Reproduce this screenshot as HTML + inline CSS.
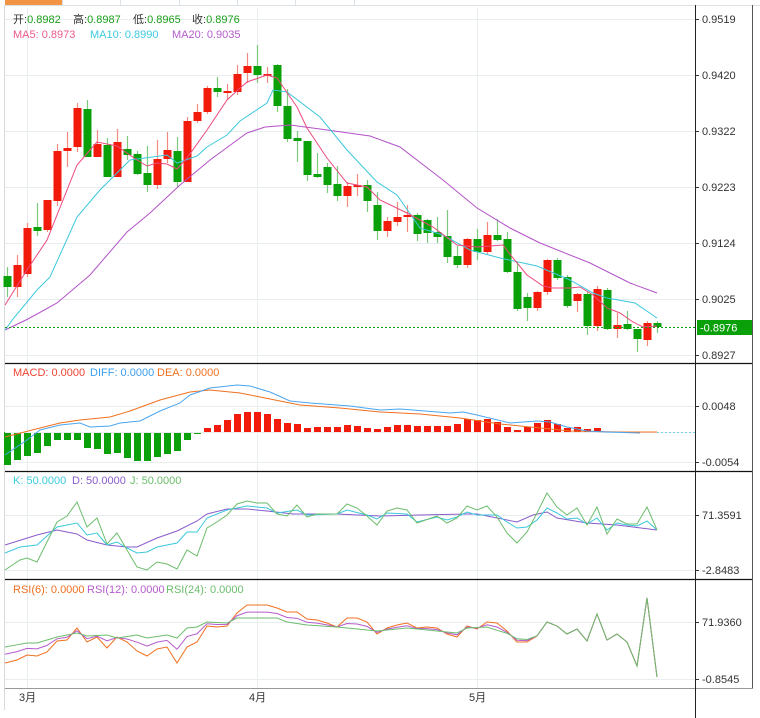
<!DOCTYPE html>
<html><head><meta charset="utf-8">
<style>
html,body{margin:0;padding:0;background:#fff;}
svg{display:block;font-family:"Liberation Sans","Noto Sans CJK SC",sans-serif;}
</style></head>
<body>
<svg id="s" width="760" height="718" xmlns="http://www.w3.org/2000/svg">
<rect width="760" height="718" fill="#fff"/>
<rect x="5" y="0" width="57" height="5" fill="#f39443"/>
<line x1="5" y1="5.5" x2="760" y2="5.5" stroke="#dde2e6"/>
<g stroke="#dde2e6"><line x1="62.5" y1="0" x2="62.5" y2="5"/><line x1="120.5" y1="0" x2="120.5" y2="5"/><line x1="179.5" y1="0" x2="179.5" y2="5"/><line x1="237.5" y1="0" x2="237.5" y2="5"/><line x1="295.5" y1="0" x2="295.5" y2="5"/><line x1="354.5" y1="0" x2="354.5" y2="5"/></g>
<line x1="4.5" y1="5" x2="4.5" y2="710" stroke="#d6dadd"/>
<g stroke="#e8edf0" stroke-width="1">
<line x1="5" y1="19.5" x2="695" y2="19.5"/><line x1="5" y1="75.5" x2="695" y2="75.5"/><line x1="5" y1="131.5" x2="695" y2="131.5"/><line x1="5" y1="187.5" x2="695" y2="187.5"/><line x1="5" y1="243.5" x2="695" y2="243.5"/><line x1="5" y1="299.5" x2="695" y2="299.5"/><line x1="5" y1="355.5" x2="695" y2="355.5"/>
<line x1="5" y1="406.5" x2="695" y2="406.5"/><line x1="5" y1="462.5" x2="695" y2="462.5"/>
<line x1="5" y1="515.5" x2="695" y2="515.5"/><line x1="5" y1="570.5" x2="695" y2="570.5"/>
<line x1="5" y1="622.5" x2="695" y2="622.5"/><line x1="5" y1="679.5" x2="695" y2="679.5"/>
<line x1="27.5" y1="8" x2="27.5" y2="688"/><line x1="257.5" y1="8" x2="257.5" y2="688"/><line x1="477.5" y1="8" x2="477.5" y2="688"/>
</g>
<g id="plot"></g>
<g stroke="#111" stroke-width="1.3">
<line x1="5" y1="363.5" x2="753" y2="363.5"/><line x1="5" y1="471.5" x2="753" y2="471.5"/><line x1="5" y1="579.5" x2="753" y2="579.5"/>
</g>
<line x1="5" y1="688.5" x2="753" y2="688.5" stroke="#999"/>
<line x1="695.5" y1="5" x2="695.5" y2="718" stroke="#222"/>
<line x1="752.5" y1="5" x2="752.5" y2="688" stroke="#555"/>
<g font-size="11" fill="#333">
<text x="702" y="23">0.9519</text><text x="702" y="79">0.9420</text><text x="702" y="135">0.9322</text><text x="702" y="191">0.9223</text><text x="702" y="247">0.9124</text><text x="702" y="303">0.9025</text><text x="702" y="359">0.8927</text>
<text x="702" y="410">0.0048</text><text x="702" y="466">-0.0054</text>
<text x="702" y="519">71.3591</text><text x="702" y="574">-2.8483</text>
<text x="702" y="626">71.9360</text><text x="702" y="683">-0.8545</text>
<text x="19" y="701">3月</text><text x="249" y="701">4月</text><text x="469" y="701">5月</text>
</g>
<g stroke="#333"><line x1="695" y1="19.5" x2="699" y2="19.5"/><line x1="695" y1="75.5" x2="699" y2="75.5"/><line x1="695" y1="131.5" x2="699" y2="131.5"/><line x1="695" y1="187.5" x2="699" y2="187.5"/><line x1="695" y1="243.5" x2="699" y2="243.5"/><line x1="695" y1="299.5" x2="699" y2="299.5"/><line x1="695" y1="355.5" x2="699" y2="355.5"/><line x1="695" y1="406.5" x2="699" y2="406.5"/><line x1="695" y1="462.5" x2="699" y2="462.5"/><line x1="695" y1="515.5" x2="699" y2="515.5"/><line x1="695" y1="570.5" x2="699" y2="570.5"/><line x1="695" y1="622.5" x2="699" y2="622.5"/><line x1="695" y1="679.5" x2="699" y2="679.5"/></g>
<line x1="5" y1="327.5" x2="695" y2="327.5" stroke="#11a011" stroke-dasharray="2,2"/>
<rect x="697" y="320" width="55" height="15" fill="#0aa00a"/>
<text x="700" y="331.5" font-size="11" fill="#fff">-0.8976</text>
<g font-size="11">
<text x="13" y="23"><tspan fill="#333">开:</tspan><tspan fill="#1a9e1a">0.8982</tspan></text>
<text x="73" y="23"><tspan fill="#333">高:</tspan><tspan fill="#1a9e1a">0.8987</tspan></text>
<text x="133" y="23"><tspan fill="#333">低:</tspan><tspan fill="#1a9e1a">0.8965</tspan></text>
<text x="192" y="23"><tspan fill="#333">收:</tspan><tspan fill="#1a9e1a">0.8976</tspan></text>
<text x="13" y="38" fill="#ec5a8a">MA5: 0.8973</text>
<text x="90" y="38" fill="#3ccbe0">MA10: 0.8990</text>
<text x="172" y="38" fill="#b55ccc">MA20: 0.9035</text>
<text x="13" y="376" fill="#ee4433">MACD: 0.0000</text>
<text x="90" y="376" fill="#3a9ef0">DIFF: 0.0000</text>
<text x="157" y="376" fill="#f07020">DEA: 0.0000</text>
<text x="13" y="484" fill="#3ccbe0">K: 50.0000</text>
<text x="72" y="484" fill="#8a5ccc">D: 50.0000</text>
<text x="130" y="484" fill="#6cbd6c">J: 50.0000</text>
<text x="13" y="593" fill="#f07020">RSI(6): 0.0000</text>
<text x="87" y="593" fill="#b55ccc">RSI(12): 0.0000</text>
<text x="166" y="593" fill="#6cbd6c">RSI(24): 0.0000</text>
</g>
</svg>
<script>
var NS="http://www.w3.org/2000/svg",g=document.getElementById("plot");
function el(t,a){var e=document.createElementNS(NS,t);for(var k in a)e.setAttribute(k,a[k]);g.appendChild(e);return e;}
function pl(pts,c,w){el("polyline",{points:pts.map(function(p){return p.join(",")}).join(" "),fill:"none",stroke:c,"stroke-width":w||1});}
var C=[[276,287,267,297,0],[265,287,255,297,1],[228,274,223,277,1],[227,231,203,236,0],[200,230,200,232,1],[151,201,144,206,1],[148,151,132,167,1],[108,147,103,152,1],[109,157,100,157,0],[144,157,130,157,1],[145,177,138,177,0],[142,177,129,177,1],[149,155,136,160,0],[154,174,151,175,0],[173,185,146,192,0],[159,185,140,189,1],[150,159,132,163,1],[151,182,137,187,0],[121,182,117,182,1],[112,121,104,123,1],[88,112,86,114,1],[88,92,77,97,0],[91,93,84,100,1],[74,92,65,95,1],[66,73,53,83,1],[66,75,45,83,0],[74,76,67,83,1],[65,106,64,112,0],[106,139,89,142,0],[138,141,131,162,0],[141,175,141,181,0],[174,177,153,178,0],[167,185,163,193,0],[184,196,166,201,0],[186,196,182,207,1],[185,187,174,196,1],[185,201,180,212,0],[205,231,192,240,0],[221,231,217,237,1],[217,222,202,226,1],[215,217,205,232,1],[215,234,213,241,0],[220,233,219,243,0],[232,237,217,243,0],[236,257,210,263,0],[256,265,246,268,0],[239,265,238,268,1],[239,252,229,260,0],[235,252,222,254,1],[235,240,219,241,0],[239,272,232,273,0],[272,309,262,311,0],[297,308,293,321,0],[292,308,291,311,1],[260,292,259,295,1],[260,278,258,280,0],[277,306,275,308,0],[294,301,293,312,1],[294,326,291,335,0],[289,326,286,331,1],[290,329,288,330,0],[325,329,313,338,1],[324,329,311,330,0],[329,339,329,352,0],[323,340,321,346,1],[323,327,321,333,0]];
C.forEach(function(c,i){var x=7.5+10*i,col=c[4]?"#f21a0a":"#0aa00a",wc=c[4]?"#f28a80":"#7cc87c";
el("line",{x1:x,x2:x,y1:c[2],y2:c[3],stroke:wc,"stroke-width":1.2});
el("rect",{x:x-4,y:c[0],width:8,height:Math.max(1.5,c[1]-c[0]),fill:col});});
pl([[5,330],[28,319],[57,303],[90,275],[127,232],[150,213],[180,185],[210,160],[240,138],[247,133],[265,127],[290,125],[320,129],[370,136],[400,147],[430,170],[443,180],[477,208],[510,228],[540,243],[590,263],[630,283],[657,293]],"#b452c8");
pl([[5,330],[13,319],[37,290],[50,277],[77,217],[100,190],[130,160],[167,155],[177,163],[197,156],[207,147],[227,135],[240,121],[267,103],[273,90],[287,92],[320,117],[347,150],[377,182],[397,195],[420,228],[443,235],[470,250],[500,258],[537,266],[570,280],[593,293],[607,298],[635,303],[657,318]],"#3cc8dc");
pl([[5,305],[27,270],[47,240],[77,165],[97,142],[117,146],[137,160],[147,166],[157,163],[167,164],[177,169],[187,158],[207,130],[227,100],[240,88],[247,82],[267,75],[277,78],[297,107],[307,128],[327,158],[347,183],[367,187],[380,200],[407,213],[433,227],[457,245],[477,247],[490,246],[503,245],[513,258],[527,275],[543,286],[553,288],[570,288],[580,287],[593,295],[607,308],[620,313],[633,322],[643,327],[657,326]],"#ec4a7e");
var M=[465,460,456,453,446,440,440,440,448,449,454,453,458,461,461,457,454,451,440,434,428,425,420,414,412,412,414,419,423,424,428,427,427,427,425,426,428,429,427,425,425,426,426,426,426,424,419,420,419,422,427,430,427,423,420,424,428,427,429,428];
M.forEach(function(v,i){var x=7.5+10*i;if(v>432)el("rect",{x:x-3.5,y:432,width:7,height:v-432,fill:"#0aa00a"});else el("rect",{x:x-3.5,y:v,width:7,height:432-v,fill:"#f21a0a"});});
el("line",{x1:5,x2:695,y1:432.5,y2:432.5,stroke:"#e8edf0"});
el("line",{x1:657,x2:695,y1:432.5,y2:432.5,stroke:"#7fd4e8","stroke-dasharray":"2,2"});
pl([[5,437],[40,428],[60,423],[80,420],[110,417],[130,411],[160,400],[190,392],[210,390],[240,393],[270,399],[300,405],[340,408],[380,412],[420,414],[460,418],[500,424],[530,427],[570,431],[620,432],[657,432]],"#f07020");
pl([[5,455],[27,440],[40,430],[60,425],[80,423],[90,427],[110,426],[120,423],[140,421],[160,411],[180,403],[190,395],[210,388],[237,385],[250,386],[270,392],[290,401],[310,403],[350,406],[380,410],[400,409],[450,413],[463,412],[477,415],[510,423],[537,421],[550,422],[567,427],[587,431],[607,432],[640,433]],"#4aa6f0");
pl([[5,545],[37,535],[57,530],[77,534],[87,540],[107,545],[127,547],[137,547],[157,538],[177,531],[197,521],[207,514],[227,509],[247,509],[267,511],[293,514],[337,514],[380,516],[420,515],[467,514],[477,514],[517,522],[533,515],[547,512],[557,518],[587,523],[617,525],[657,530]],"#8a5ccc");
pl([[5,553],[20,547],[37,545],[57,527],[77,523],[87,535],[97,533],[107,545],[117,542],[127,548],[137,553],[147,552],[157,547],[177,543],[187,532],[197,532],[207,518],[227,510],[247,506],[267,508],[277,513],[297,510],[307,515],[337,514],[347,510],[367,515],[377,519],[387,513],[407,514],[417,522],[437,517],[447,520],[457,517],[467,512],[477,515],[497,515],[507,522],[517,528],[527,527],[537,520],[547,508],[557,513],[567,519],[577,518],[587,524],[597,518],[607,530],[617,523],[627,525],[637,526],[647,521],[657,530]],"#3cc8dc");
pl([[5,570],[20,560],[27,558],[37,562],[57,522],[67,516],[77,502],[87,527],[97,518],[107,544],[117,533],[127,550],[137,567],[147,570],[157,562],[167,564],[177,569],[187,550],[197,556],[207,528],[217,522],[227,515],[237,504],[247,501],[257,503],[267,503],[277,514],[287,516],[297,505],[307,517],[317,514],[337,514],[347,504],[357,508],[367,516],[377,525],[387,511],[397,508],[407,510],[417,523],[437,516],[447,523],[457,518],[467,506],[477,510],[487,506],[497,517],[507,533],[517,543],[527,532],[537,513],[547,493],[557,507],[567,515],[577,508],[587,525],[597,507],[607,534],[617,519],[627,524],[637,524],[647,507],[657,530]],"#6cbd6c");
var R6=[[5,663],[17,660],[27,655],[37,656],[47,652],[57,641],[67,640],[77,628],[87,642],[97,637],[107,648],[117,637],[127,642],[137,651],[147,656],[157,649],[167,647],[177,663],[187,647],[197,642],[207,626],[217,627],[227,626],[237,613],[247,605],[257,605],[267,605],[277,608],[287,612],[297,612],[307,619],[317,620],[327,623],[337,627],[347,618],[357,618],[367,622],[377,634],[387,628],[397,625],[407,623],[417,628],[427,627],[437,628],[447,634],[457,637],[467,626],[477,629],[487,622],[497,623],[507,631],[517,642],[527,642],[537,636],[547,622],[557,626],[567,634],[577,629],[587,641],[597,614],[607,640],[617,634],[627,642],[637,666],[647,598],[657,677]];
var R24k=[[5,647],[27,643],[37,643],[57,637],[77,633],[87,636],[107,635],[117,638],[137,635],[147,638],[167,635],[177,638],[187,628],[197,627],[207,622],[227,623],[237,618],[257,618],[277,618],[287,622],[307,625],[337,627],[377,631],[407,628],[457,633],[467,628],[487,627],[517,637],[537,635],[547,625]];
function interp(k,x){for(var i=0;i<k.length-1;i++){if(x<=k[i+1][0]){var t=(x-k[i][0])/(k[i+1][0]-k[i][0]);return k[i][1]+t*(k[i+1][1]-k[i][1]);}}return null;}
var R24=[],R12=[];R6.forEach(function(p){var v=interp(R24k,p[0]);var x=p[0];var b;
if(v===null){b=p[1];}else{var w=x>500?(x-500)/47:0;b=v*(1-w)+p[1]*w;}
R24.push([x,b]);R12.push([x,0.45*p[1]+0.55*b]);});
pl(R6,"#f07020");pl(R12,"#b55ccc");pl(R24,"#6cbd6c");
</script>
</body></html>
